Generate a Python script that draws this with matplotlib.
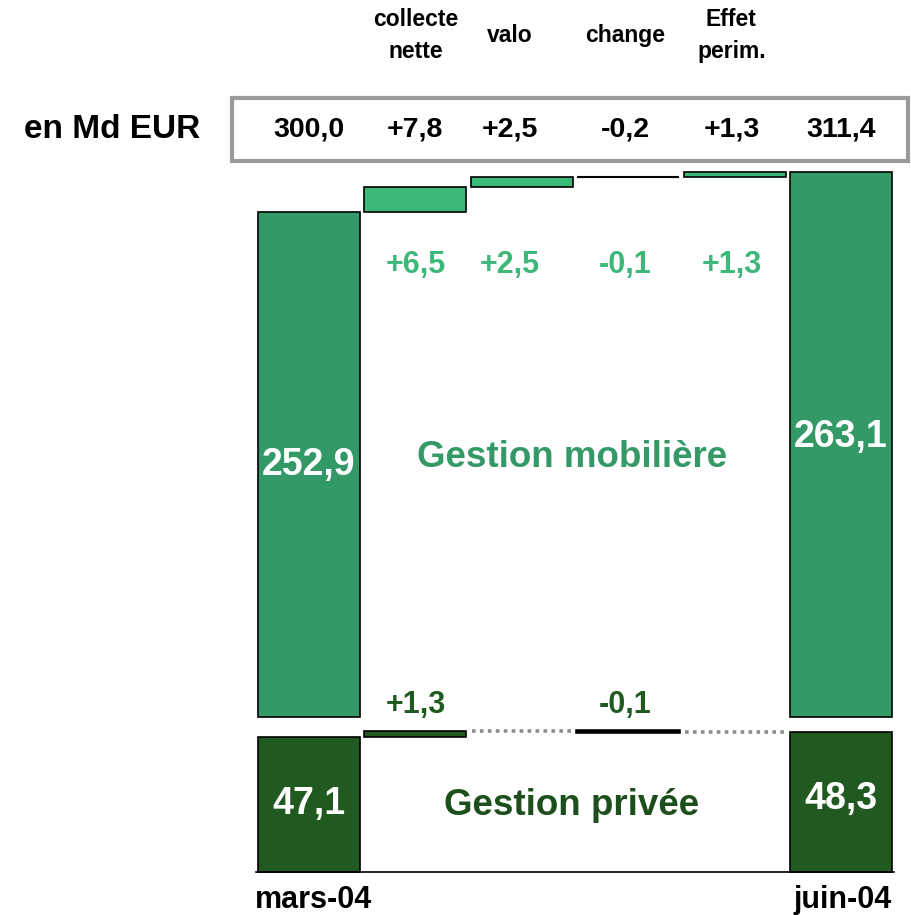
import matplotlib
matplotlib.use("Agg")
import matplotlib.pyplot as plt
from matplotlib.patches import Rectangle
from matplotlib.transforms import blended_transform_factory

plt.rcParams['font.family'] = ['Liberation Sans', 'DejaVu Sans']
plt.rcParams['font.weight'] = 'bold'

# data
col_labels = ["mars-04", "collecte\nnette", "valo", "change", "Effet\nperim.", "juin-04"]
total_row = [300.0, 7.8, 2.5, -0.2, 1.3, 311.4]

mob_start, mob_end = 252.9, 263.1
mob_deltas = [6.5, 2.5, -0.1, 1.3]

priv_start, priv_end = 47.1, 48.3
priv_deltas = [1.3, 0.0, -0.1, 0.0]
priv_labelled = [True, False, True, False]

# colours
c_mob = "#339966"
c_mob_delta = "#3cb878"
c_priv = "#215a21"
c_priv_txt = "#1d4f1d"

# small horizontal nudges of the column texts (as in the original slide)
text_dx = [0, 0, -0.11, -0.03, -0.03, 0]


def fr(v, sign=False):
    s = f"{v:+.1f}" if sign else f"{v:.1f}"
    return s.replace(".", ",")


fig = plt.figure(figsize=(9.11, 9.15), dpi=100)
ax_m = fig.add_axes([0.2744, 0.2164, 0.7135, 0.6033])
ax_p = fig.add_axes([0.2744, 0.0475, 0.7135, 0.1601])

ylo_m, yhi_m = 124.1, 264.9
ylo_p, yhi_p = 18.3, 49.7
w = 0.96

for ax in (ax_m, ax_p):
    ax.set_xlim(-0.5545, 5.5545)
    ax.set_xticks([])
    ax.set_yticks([])
    ax.patch.set_visible(False)
    for s in ax.spines.values():
        s.set_visible(False)
ax_m.set_ylim(ylo_m, yhi_m)
ax_p.set_ylim(ylo_p, yhi_p)
ax_p.spines['bottom'].set_visible(True)
ax_p.spines['bottom'].set_bounds(-0.5, 5.5)
ax_p.spines['bottom'].set_linewidth(1.2)

# --- gestion mobiliere
ax_m.bar(0, mob_start - ylo_m, bottom=ylo_m, width=w, color=c_mob,
         edgecolor="black", lw=1.2, clip_on=False)
ax_m.bar(5, mob_end - ylo_m, bottom=ylo_m, width=w, color=c_mob,
         edgecolor="black", lw=1.2, clip_on=False)
run = mob_start
for i, d in enumerate(mob_deltas, start=1):
    bot = run if d >= 0 else run + d
    if d < 0:
        ax_m.bar(i, abs(d), bottom=bot, width=w, color="black",
                 edgecolor="black", lw=1.5)
    else:
        ax_m.bar(i, d, bottom=bot, width=w, color=c_mob_delta,
                 edgecolor="black", lw=1.2)
    run += d

# --- gestion privee
ax_p.bar(0, priv_start - ylo_p, bottom=ylo_p, width=w, color=c_priv,
         edgecolor="black", lw=1.2, clip_on=False)
ax_p.bar(5, priv_end - ylo_p, bottom=ylo_p, width=w, color=c_priv,
         edgecolor="black", lw=1.2, clip_on=False)
run = priv_start
for i, d in enumerate(priv_deltas, start=1):
    if d == 0:
        # unchanged step: dotted connector across the empty column
        ax_p.plot([i - 1 + w / 2 + 0.05, i + 1 - w / 2 - 0.05], [run, run],
                  color="#8c8c8c", lw=2.6, ls=(0, (1, 1.2)),
                  solid_capstyle="butt", dash_capstyle="butt", clip_on=False)
        continue
    bot = run if d >= 0 else run + d
    if d < 0:
        ax_p.bar(i, abs(d), bottom=bot, width=w, color="black",
                 edgecolor="black", lw=2.6, clip_on=False)
    else:
        ax_p.bar(i, d, bottom=bot, width=w, color=c_priv,
                 edgecolor="black", lw=1.2, clip_on=False)
    run += d

# --- texts
tr = blended_transform_factory(ax_m.transData, fig.transFigure)

for i, lab in enumerate(col_labels[1:5], start=1):
    ax_m.text(i + text_dx[i], 0.9607, lab, transform=tr, ha="center",
              va="center", fontsize=16.5, linespacing=1.5)

fig.patches.append(Rectangle((0.2547, 0.8240), 0.742, 0.0689,
                             transform=fig.transFigure, fill=False,
                             edgecolor="#9a9a9a", lw=3))
fig.text(0.2195, 0.858, "en Md EUR", ha="right", va="center", fontsize=24)
for i, v in enumerate(total_row):
    sign = 0 < i < len(total_row) - 1
    ax_m.text(i + text_dx[i], 0.858, fr(v, sign), transform=tr,
              ha="center", va="center", fontsize=20.5)

for i, d in enumerate(mob_deltas, start=1):
    ax_m.text(i + text_dx[i], 0.7104, fr(d, True), transform=tr,
              ha="center", va="center", fontsize=22, color=c_mob_delta)

for i, d in enumerate(priv_deltas, start=1):
    if priv_labelled[i - 1]:
        ax_m.text(i + text_dx[i], 0.2295, fr(d, True), transform=tr,
                  ha="center", va="center", fontsize=22, color=c_priv)

ax_m.text(2.47, 0.4995, "Gestion mobilière", transform=tr, ha="center",
          va="center", fontsize=26.5, color=c_mob)
ax_m.text(2.47, 0.1202, "Gestion privée", transform=tr, ha="center",
          va="center", fontsize=26.5, color=c_priv_txt)

ax_m.text(0, (ylo_m + mob_start) / 2, fr(mob_start), ha="center",
          va="center", fontsize=27, color="white")
ax_m.text(5, (ylo_m + mob_end) / 2 + 2, fr(mob_end), ha="center",
          va="center", fontsize=27, color="white")
ax_p.text(0, (ylo_p + priv_start) / 2, fr(priv_start), ha="center",
          va="center", fontsize=27, color="white")
ax_p.text(5, (ylo_p + priv_end) / 2 + 0.6, fr(priv_end), ha="center",
          va="center", fontsize=27, color="white")

ax_m.text(0.04, 0.0164, col_labels[0], transform=tr, ha="center",
          va="center", fontsize=22)
ax_m.text(5.02, 0.0164, col_labels[5], transform=tr, ha="center",
          va="center", fontsize=22)

fig.savefig("out.png", dpi=100, facecolor="white")
